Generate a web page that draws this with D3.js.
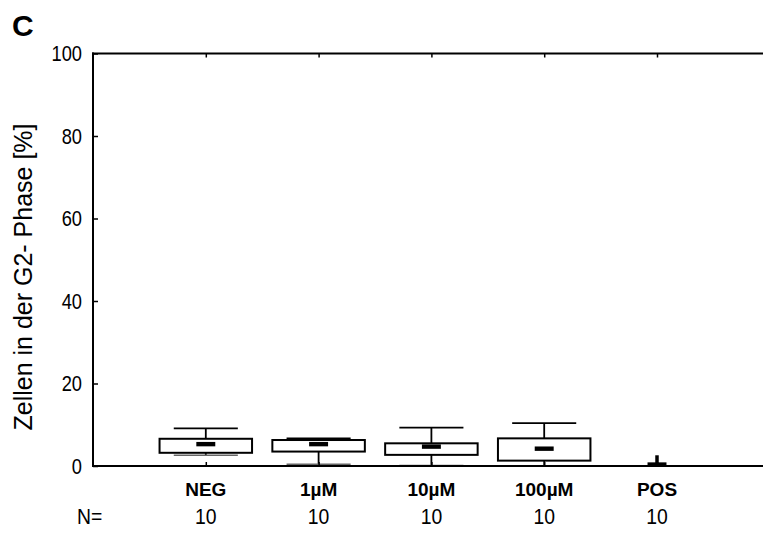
<!DOCTYPE html>
<html>
<head>
<meta charset="utf-8">
<script src="https://cdn.jsdelivr.net/npm/d3@7"></script>
<style>
  html, body { margin: 0; padding: 0; background: #fff; }
  svg { display: block; font-family: "Liberation Sans", Arial, Helvetica, sans-serif; }
</style>
</head>
<body>
<svg id="chart" width="763" height="538"></svg>
<script>
// Box plot: share of cells in G2 phase per treatment group
const categories = ["NEG", "1µM", "10µM", "100µM", "POS"];
const nValues    = [10, 10, 10, 10, 10];
const whiskerLow = [2.6, 0.4, 0.1, 0.0, 0.0];
const q1         = [3.2, 3.5, 2.7, 1.3, 0.0];
const medians    = [5.3, 5.3, 4.7, 4.2, 0.35];
const q3         = [6.6, 6.3, 5.5, 6.7, 0.1];
const whiskerHigh= [9.1, 6.7, 9.3, 10.4, 2.6];
const yTicks     = [0, 20, 40, 60, 80, 100];

const svg = d3.select("#chart");

const plotLeft = 93, plotTop = 53.5, plotBottom = 466;
const x = d3.scaleLinear().domain([0, categories.length + 1]).range([plotLeft, plotLeft + 112.8 * 6]);
const y = d3.scaleLinear().domain([0, 100]).range([plotBottom, plotTop]);

const boxHalf = 0.41, capHalf = 0.284, medHalf = 0.084;
const data = categories.map((c, i) => ({
  c, i: i + 1, lo: whiskerLow[i], q1: q1[i], med: medians[i], q3: q3[i], hi: whiskerHigh[i], n: nValues[i]
}));
// groups whose box collapses onto the baseline are drawn as a plain marker without caps
const flat = d => d.q3 - d.q1 < 0.5;

// Frame lines: left axis, bottom axis, top border
const frame = svg.append("g").attr("stroke", "#000").attr("stroke-width", 2).attr("fill", "none");
frame.append("line").attr("x1", plotLeft).attr("x2", plotLeft).attr("y1", y(100) - 1).attr("y2", y(0) + 1);
frame.append("line").attr("x1", plotLeft - 1).attr("x2", 763).attr("y1", y(100)).attr("y2", y(100));

// Inward ticks on left axis
const yAxis = svg.append("g").attr("transform", `translate(${plotLeft},0)`)
  .call(d3.axisRight(y).tickValues(yTicks).tickSize(5).tickFormat(""));
yAxis.select(".domain").remove();
yAxis.selectAll(".tick line").attr("stroke-width", 1.5);

// Y tick labels (narrow numerals)
const yLab = svg.append("g");
yTicks.forEach(t => {
  yLab.append("g").attr("transform", `translate(${plotLeft - 11},${y(t)})`)
    .append("text")
    .attr("transform", "scale(0.83,1)")
    .attr("text-anchor", "end")
    .attr("dy", "0.36em")
    .attr("font-size", 22)
    .attr("fill", "#000")
    .text(t);
});

// Inward ticks on top border at category positions
const xt = svg.append("g").attr("transform", `translate(0,${y(100)})`)
  .call(d3.axisBottom(x).tickValues(data.map(d => d.i)).tickSize(4).tickFormat(""));
xt.select(".domain").remove();
xt.selectAll(".tick line").attr("stroke-width", 1.5);

// Boxes
const g = svg.append("g").selectAll("g").data(data).join("g");
g.append("line")
  .attr("x1", d => x(d.i)).attr("x2", d => x(d.i))
  .attr("y1", d => y(d.hi)).attr("y2", d => y(d.q3))
  .attr("stroke", "#000").attr("stroke-width", d => flat(d) ? 3.5 : 1.8);
g.append("line")
  .attr("x1", d => x(d.i)).attr("x2", d => x(d.i))
  .attr("y1", d => y(d.q1)).attr("y2", d => y(d.lo))
  .attr("stroke", "#000").attr("stroke-width", 1.8);
g.filter(d => !flat(d)).append("line")
  .attr("x1", d => x(d.i - capHalf)).attr("x2", d => x(d.i + capHalf))
  .attr("y1", d => y(d.hi)).attr("y2", d => y(d.hi))
  .attr("stroke", "#000").attr("stroke-width", 1.8);
g.append("line")
  .attr("x1", d => x(d.i - capHalf)).attr("x2", d => x(d.i + capHalf))
  .attr("y1", d => y(d.lo)).attr("y2", d => y(d.lo))
  .attr("stroke", "#666").attr("stroke-width", 1.6);
g.append("rect")
  .attr("x", d => x(d.i - boxHalf)).attr("width", d => x(d.i + boxHalf) - x(d.i - boxHalf))
  .attr("y", d => y(d.q3)).attr("height", d => y(d.q1) - y(d.q3))
  .attr("fill", d => flat(d) ? "none" : "#fff")
  .attr("stroke", d => flat(d) ? "#999" : "#000")
  .attr("stroke-width", d => flat(d) ? 1 : 2);

// Bottom axis with inward ticks, drawn over the box bases
svg.append("line").attr("stroke", "#000").attr("stroke-width", 2)
  .attr("x1", plotLeft - 1).attr("x2", 763).attr("y1", y(0)).attr("y2", y(0));
const xb = svg.append("g").attr("transform", `translate(0,${y(0)})`)
  .call(d3.axisTop(x).tickValues(data.map(d => d.i)).tickSize(4).tickFormat(""));
xb.select(".domain").remove();
xb.selectAll(".tick line").attr("stroke-width", 1.5);

// Median markers
g.append("rect")
  .attr("x", d => x(d.i - medHalf)).attr("width", d => x(d.i + medHalf) - x(d.i - medHalf))
  .attr("y", d => y(d.med) - 2.2).attr("height", 4.4)
  .attr("fill", "#000");

// Category labels
svg.append("g").selectAll("text").data(data).join("text")
  .attr("x", d => x(d.i)).attr("y", 496)
  .attr("text-anchor", "middle")
  .attr("font-size", 19).attr("font-weight", "bold")
  .attr("fill", "#000")
  .text(d => d.c);

// Sample sizes row
const nRow = svg.append("g");
nRow.append("g").attr("transform", "translate(77,523.5)")
  .append("text").attr("transform", "scale(0.88,1)")
  .attr("font-size", 22).attr("fill", "#000").text("N=");
data.forEach(d => {
  nRow.append("g").attr("transform", `translate(${x(d.i)},523.5)`)
    .append("text").attr("transform", "scale(0.88,1)")
    .attr("text-anchor", "middle")
    .attr("font-size", 22).attr("fill", "#000").text(d.n);
});

// Y-axis title
svg.append("text")
  .attr("transform", "translate(32,277) rotate(-90)")
  .attr("text-anchor", "middle")
  .attr("font-size", 25).attr("fill", "#000")
  .text("Zellen in der G2- Phase [%]");

// Panel letter
svg.append("text")
  .attr("x", 12).attr("y", 36)
  .attr("font-size", 30).attr("font-weight", "bold").attr("fill", "#000")
  .text("C");
</script>
</body>
</html>
